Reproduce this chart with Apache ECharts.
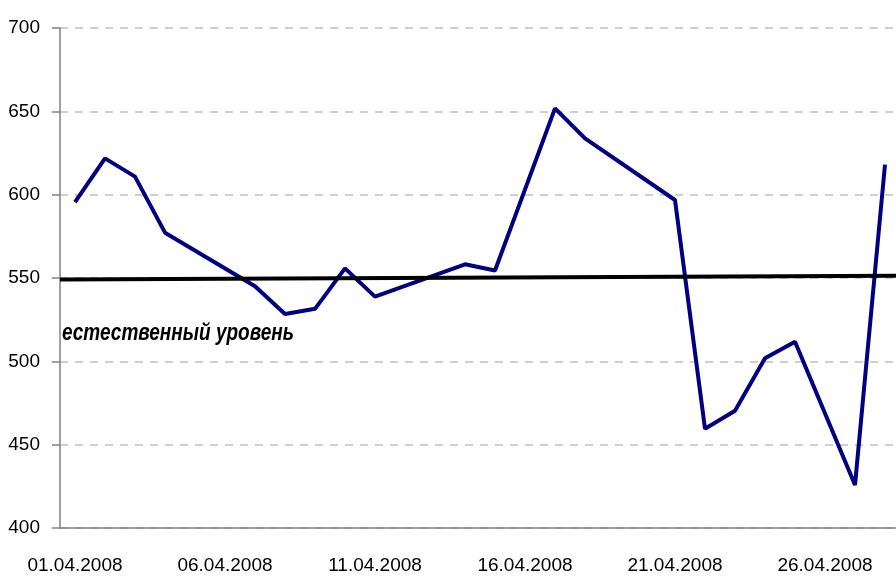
<!DOCTYPE html>
<html>
<head>
<meta charset="utf-8">
<script src="https://cdn.jsdelivr.net/npm/echarts@6/dist/echarts.min.js"></script>
<style>
  html, body { margin: 0; padding: 0; background: #fff; }
  #chart { width: 896px; height: 576px; }
</style>
</head>
<body>
<div id="chart"></div>
<script>
// даты (ось X)
const days = [
  '01.04.2008', '02.04.2008', '03.04.2008', '04.04.2008', '05.04.2008',
  '06.04.2008', '07.04.2008', '08.04.2008', '09.04.2008', '10.04.2008',
  '11.04.2008', '12.04.2008', '13.04.2008', '14.04.2008', '15.04.2008',
  '16.04.2008', '17.04.2008', '18.04.2008', '19.04.2008', '20.04.2008',
  '21.04.2008', '22.04.2008', '23.04.2008', '24.04.2008', '25.04.2008',
  '26.04.2008', '27.04.2008', '28.04.2008'
]
// значения по дням (null - нет данных)
const values = [
  595.5, 621.8, 610.8, 577.2, null,
  null, 545.0, 528.4, 531.5, 555.8,
  538.8, null, null, 558.2, 554.5,
  null, 651.8, 633.8, null, null,
  596.8, 459.6, 470.4, 501.8, 511.8,
  null, 425.8, 618.0
]
// естественный уровень: начало и конец линии
const levelStart = 549.1
const levelEnd = 551.3
const levelName = 'естественный уровень'

const font = '"Liberation Sans", Arial, sans-serif'

const myChart = echarts.init(document.getElementById('chart'))
const option = {
  animation: false,
  grid: {
    left: 60,
    right: -4,
    top: 28,
    bottom: 48,
    outerBoundsMode: 'none'
  },
  xAxis: [
    {
      type: 'category',
      data: days,
      boundaryGap: true,
      axisLine: { lineStyle: { color: '#808080', width: 1.5 } },
      axisTick: {
        interval: 4,
        length: 8,
        lineStyle: { color: '#808080', width: 1.5 }
      },
      axisLabel: {
        interval: 4,
        margin: 28,
        color: '#000',
        fontSize: 19,
        fontFamily: font
      },
      splitLine: { show: false }
    },
    {
      type: 'value',
      min: 0,
      max: 1,
      show: false
    }
  ],
  yAxis: {
    type: 'value',
    min: 400,
    max: 700,
    interval: 50,
    axisLine: { show: true, lineStyle: { color: '#808080', width: 1.5 } },
    axisTick: {
      show: true,
      length: 8,
      lineStyle: { color: '#808080', width: 1.5 }
    },
    axisLabel: {
      margin: 20,
      color: '#000',
      fontSize: 19,
      fontFamily: font,
      padding: [0, 0, 8, 0]
    },
    splitLine: {
      lineStyle: { color: '#c0c0c0', type: [8, 7], width: 1.5 }
    }
  },
  series: [
    {
      name: 'уровень',
      type: 'line',
      xAxisIndex: 1,
      data: [[0, levelStart], [1, levelEnd]],
      symbol: 'none',
      lineStyle: { color: '#000', width: 4 },
      z: 3
    },
    {
      name: 'значение',
      type: 'line',
      data: values,
      connectNulls: true,
      symbol: 'none',
      lineStyle: { color: '#000080', width: 4 },
      z: 2
    }
  ],
  graphic: [
    {
      type: 'text',
      left: 62,
      top: 322,
      scaleY: 1.25,
      style: {
        text: levelName,
        fill: '#000',
        font: 'italic bold 19px ' + font
      }
    }
  ]
}
myChart.setOption(option)
</script>
</body>
</html>
